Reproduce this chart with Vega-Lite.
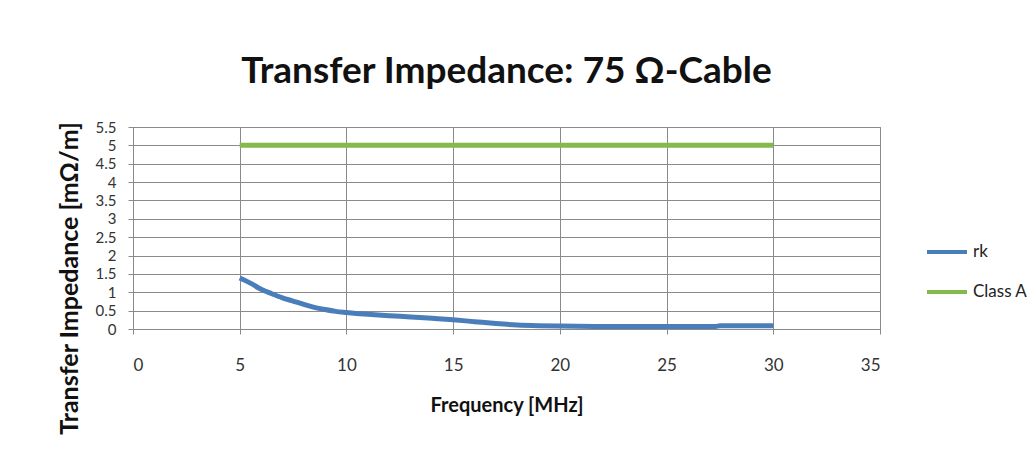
{
  "$schema": "https://vega.github.io/schema/vega-lite/v6.json",
  "width": 747,
  "height": 202,
  "autosize": {"type": "none"},
  "padding": {"left": 133, "top": 127, "right": 155, "bottom": 123},
  "background": "white",
  "title": {
    "text": "Transfer Impedance: 75 Ω-Cable",
    "font": "Lato",
    "fontSize": 37,
    "fontWeight": "bold",
    "color": "#111111",
    "anchor": "middle",
    "frame": "group",
    "baseline": "bottom",
    "offset": -8
  },
  "data": {
    "values": [
      {"series": "rk", "freq": 5, "value": 1.39},
      {"series": "rk", "freq": 5.5, "value": 1.25},
      {"series": "rk", "freq": 6, "value": 1.08},
      {"series": "rk", "freq": 6.5, "value": 0.96},
      {"series": "rk", "freq": 7, "value": 0.85},
      {"series": "rk", "freq": 7.5, "value": 0.76},
      {"series": "rk", "freq": 8, "value": 0.67},
      {"series": "rk", "freq": 8.5, "value": 0.59},
      {"series": "rk", "freq": 9, "value": 0.53},
      {"series": "rk", "freq": 9.5, "value": 0.48},
      {"series": "rk", "freq": 10, "value": 0.45},
      {"series": "rk", "freq": 11, "value": 0.40},
      {"series": "rk", "freq": 12, "value": 0.36},
      {"series": "rk", "freq": 13, "value": 0.33},
      {"series": "rk", "freq": 14, "value": 0.29},
      {"series": "rk", "freq": 15, "value": 0.25},
      {"series": "rk", "freq": 16, "value": 0.20},
      {"series": "rk", "freq": 17, "value": 0.15},
      {"series": "rk", "freq": 18, "value": 0.11},
      {"series": "rk", "freq": 19, "value": 0.09},
      {"series": "rk", "freq": 20, "value": 0.08},
      {"series": "rk", "freq": 22, "value": 0.07},
      {"series": "rk", "freq": 24, "value": 0.07},
      {"series": "rk", "freq": 26, "value": 0.07},
      {"series": "rk", "freq": 27.3, "value": 0.07},
      {"series": "rk", "freq": 27.5, "value": 0.09},
      {"series": "rk", "freq": 30, "value": 0.09},
      {"series": "Class A", "freq": 5, "value": 5},
      {"series": "Class A", "freq": 30, "value": 5}
    ]
  },
  "mark": {"type": "line", "strokeWidth": 5, "interpolate": "monotone"},
  "encoding": {
    "x": {
      "field": "freq",
      "type": "quantitative",
      "title": "Frequency [MHz]",
      "scale": {"domain": [0, 35], "nice": false, "zero": false},
      "axis": {
        "values": [0, 5, 10, 15, 20, 25, 30, 35],
        "format": "~g",
        "grid": true,
        "gridColor": "#8a8a8a",
        "domainColor": "#8a8a8a",
        "tickColor": "#8a8a8a",
        "tickSize": 5,
        "labelPadding": 23,
        "labelFont": "Lato",
        "labelFontSize": 17,
        "labelColor": "#333333",
        "titleFont": "Lato",
        "titleFontSize": 20,
        "titleFontWeight": "bold",
        "titleColor": "#111111",
        "titlePadding": 22
      }
    },
    "y": {
      "field": "value",
      "type": "quantitative",
      "title": "Transfer Impedance [mΩ/m]",
      "scale": {"domain": [0, 5.5], "nice": false},
      "axis": {
        "values": [0, 0.5, 1, 1.5, 2, 2.5, 3, 3.5, 4, 4.5, 5, 5.5],
        "format": "~g",
        "grid": true,
        "gridColor": "#8a8a8a",
        "domainColor": "#8a8a8a",
        "tickColor": "#8a8a8a",
        "tickSize": 5,
        "labelPadding": 12,
        "labelFont": "Lato",
        "labelFontSize": 15,
        "labelColor": "#333333",
        "labelOverlap": false,
        "titleFont": "Lato",
        "titleFontSize": 25,
        "titleFontWeight": "bold",
        "titleColor": "#111111",
        "titleX": -64,
        "titleY": 151,
        "titleAlign": "center",
        "titleBaseline": "middle",
        "titleAngle": -90
      }
    },
    "color": {
      "field": "series",
      "type": "nominal",
      "scale": {"domain": ["rk", "Class A"], "range": ["#4a7ebb", "#84b94c"]},
      "legend": {
        "title": null,
        "orient": "none",
        "legendX": 792,
        "legendY": 103,
        "symbolType": "stroke",
        "symbolSize": 1600,
        "symbolStrokeWidth": 4,
        "rowPadding": 10,
        "labelFont": "Lato",
        "labelFontSize": 17,
        "labelColor": "#222222",
        "labelOffset": 4
      }
    }
  },
  "config": {
    "view": {"stroke": "#8a8a8a"}
  }
}
